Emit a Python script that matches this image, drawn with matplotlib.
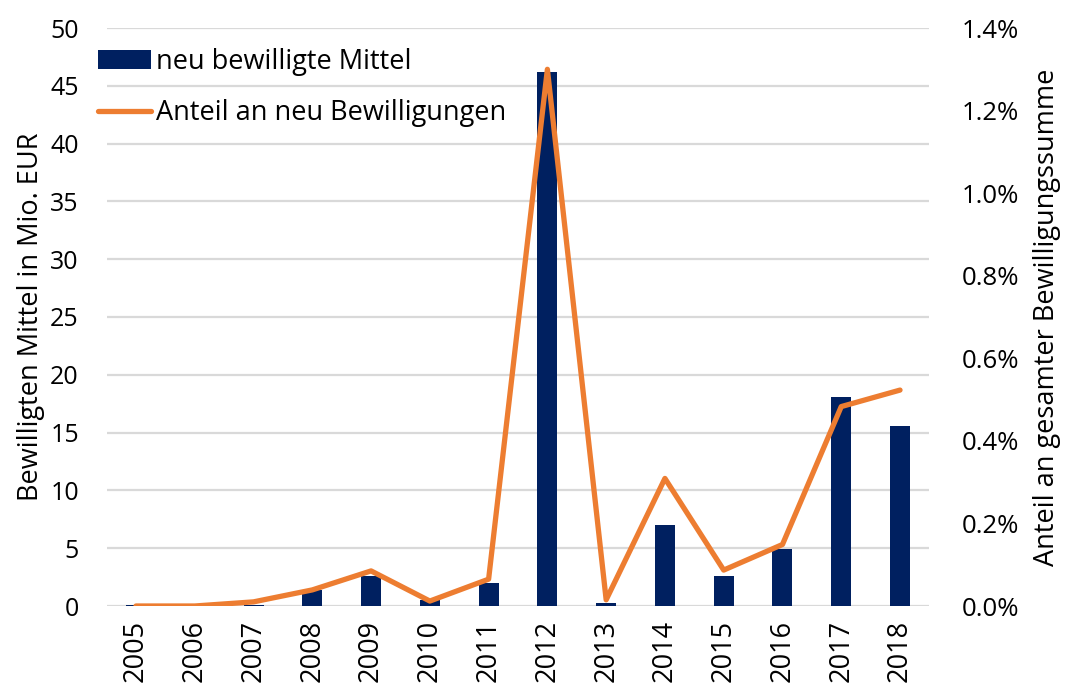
import matplotlib
matplotlib.use('Agg')
import matplotlib.pyplot as plt
from matplotlib.ticker import FuncFormatter

W, H, DPI = 1068, 690, 100

years = ['2005', '2006', '2007', '2008', '2009', '2010', '2011',
         '2012', '2013', '2014', '2015', '2016', '2017', '2018']
mittel = [0.05, 0.0, 0.1, 1.4, 2.6, 0.5, 2.0, 46.2, 0.3, 7.0, 2.6, 4.9, 18.1, 15.6]
anteil = [0.0, 0.0, 0.01, 0.039, 0.085, 0.012, 0.065, 1.30, 0.015, 0.309, 0.087,
          0.149, 0.483, 0.523]

NAVY = '#002060'
ORANGE = '#ED7D31'
plt.rcParams['font.family'] = ['Open Sans', 'DejaVu Sans']

fig = plt.figure(figsize=(W/DPI, H/DPI), dpi=DPI)
ax = fig.add_axes([106.6/W, 1 - 606/H, (929.4 - 106.6)/W, (606 - 28)/H])
ax2 = ax.twinx()

x = range(len(years))
bars = ax.bar(x, mittel, width=0.34, color=NAVY, zorder=3,
              label='neu bewilligte Mittel')
ln, = ax2.plot(x, anteil, color=ORANGE, lw=3.8, solid_capstyle='round',
               label='Anteil an neu Bewilligungen', zorder=4)

ax.set_xlim(-0.5, len(years) - 0.5)
ax.set_ylim(0, 50)
ax.set_yticks(range(0, 51, 5))
ax2.set_ylim(0, 1.4)
ax2.set_yticks([0, 0.2, 0.4, 0.6, 0.8, 1.0, 1.2, 1.4])
ax2.yaxis.set_major_formatter(FuncFormatter(lambda v, p: f'{v:.1f}%'))

ax.set_xticks(list(x))
ax.set_xticklabels(years, rotation=90)
ax.grid(axis='y', color='#D9D9D9', lw=1.6, zorder=0)
ax.set_axisbelow(True)

for a in (ax, ax2):
    for s in a.spines.values():
        s.set_visible(False)
    a.tick_params(length=0, labelsize=18, colors='black')
ax.tick_params(axis='y', pad=20)
ax2.tick_params(axis='y', pad=23, labelsize=18.5)
ax.tick_params(axis='x', pad=10, labelsize=19.5)

ax.set_ylabel('Bewilligten Mittel in Mio. EUR', fontsize=19.5, labelpad=4)
ax2.set_ylabel('Anteil an gesamter Bewilligungssumme', fontsize=19.5, labelpad=10)

ax.set_zorder(ax2.get_zorder() - 1)
ax.patch.set_visible(False)

leg = ax2.legend([bars, ln], ['neu bewilligte Mittel', 'Anteil an neu Bewilligungen'],
                 loc='upper left', bbox_to_anchor=(98/W, 1 - 48/H),
                 bbox_transform=fig.transFigure, frameon=False, borderpad=0,
                 borderaxespad=0, fontsize=19.5, handlelength=1.95,
                 handletextpad=0.2, labelspacing=0.85)

plt.savefig('out.png', dpi=DPI, facecolor='white')
